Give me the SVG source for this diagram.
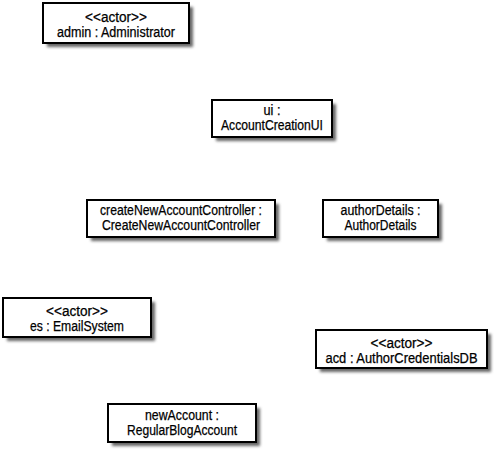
<svg xmlns="http://www.w3.org/2000/svg" width="494" height="458" viewBox="0 0 494 458">
<defs>
<filter id="sh" x="-10%" y="-20%" width="130%" height="160%">
<feGaussianBlur stdDeviation="1.7"/>
</filter>
</defs>
<style>
.box{fill:#fff;stroke:#000;stroke-width:2}
.shadow{fill:#666;filter:url(#sh)}
text{font-family:"Liberation Sans",Arial,sans-serif;font-size:14px;fill:#000;stroke:#000;stroke-width:0.25;text-anchor:middle}
</style>
<rect width="494" height="458" fill="#fff"/>
<g id="connectors"></g>
<g id="admin">
<rect class="shadow" x="47" y="7" width="146" height="40"/>
<rect class="box" x="43" y="3" width="146" height="40"/>
<text x="116" y="22" textLength="62" lengthAdjust="spacingAndGlyphs">&lt;&lt;actor&gt;&gt;</text>
<text x="116" y="37" textLength="118" lengthAdjust="spacingAndGlyphs">admin : Administrator</text>
</g>
<g id="ui">
<rect class="shadow" x="216" y="104" width="120" height="37"/>
<rect class="box" x="212" y="100" width="120" height="37"/>
<text x="272" y="115" textLength="17" lengthAdjust="spacingAndGlyphs">ui :</text>
<text x="272" y="130" textLength="102" lengthAdjust="spacingAndGlyphs">AccountCreationUI</text>
</g>
<g id="createNewAccountController">
<rect class="shadow" x="91" y="204" width="188" height="37"/>
<rect class="box" x="87" y="200" width="188" height="37"/>
<text x="181" y="215" textLength="162" lengthAdjust="spacingAndGlyphs">createNewAccountController :</text>
<text x="181" y="230" textLength="158" lengthAdjust="spacingAndGlyphs">CreateNewAccountController</text>
</g>
<g id="authorDetails">
<rect class="shadow" x="327" y="204" width="115" height="37"/>
<rect class="box" x="323" y="200" width="115" height="37"/>
<text x="380.5" y="215" textLength="80" lengthAdjust="spacingAndGlyphs">authorDetails :</text>
<text x="380.5" y="230" textLength="72" lengthAdjust="spacingAndGlyphs">AuthorDetails</text>
</g>
<g id="es">
<rect class="shadow" x="7" y="302" width="148" height="39"/>
<rect class="box" x="3" y="298" width="148" height="39"/>
<text x="77" y="316" textLength="62" lengthAdjust="spacingAndGlyphs">&lt;&lt;actor&gt;&gt;</text>
<text x="77" y="331" textLength="94" lengthAdjust="spacingAndGlyphs">es : EmailSystem</text>
</g>
<g id="acd">
<rect class="shadow" x="320" y="334" width="171" height="38"/>
<rect class="box" x="316" y="330" width="171" height="38"/>
<text x="401.5" y="348" textLength="62" lengthAdjust="spacingAndGlyphs">&lt;&lt;actor&gt;&gt;</text>
<text x="401.5" y="363" textLength="152" lengthAdjust="spacingAndGlyphs">acd : AuthorCredentialsDB</text>
</g>
<g id="newAccount">
<rect class="shadow" x="112" y="408" width="148" height="38"/>
<rect class="box" x="108" y="404" width="148" height="38"/>
<text x="182" y="420" textLength="74" lengthAdjust="spacingAndGlyphs">newAccount :</text>
<text x="182" y="435" textLength="110" lengthAdjust="spacingAndGlyphs">RegularBlogAccount</text>
</g>
</svg>
